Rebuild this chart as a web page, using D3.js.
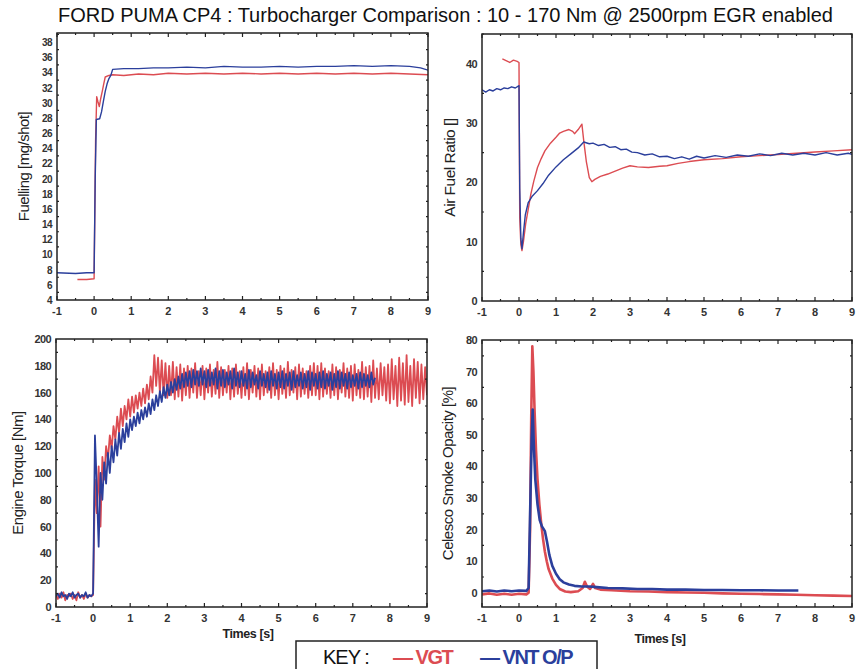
<!DOCTYPE html>
<html>
<head>
    <script src="https://d3js.org/d3.v7.min.js"></script>
    <style>
        body { margin: 0; background: #fff; }
        text { font-family: Arial, 'Liberation Sans', sans-serif; }
    </style>
</head>
<body>
<script>
// ---- data ----
const title = 'FORD PUMA CP4 : Turbocharger Comparison : 10 - 170 Nm @ 2500rpm EGR enabled';
const seriesNames = ['VGT', 'VNT O/P'];
const xTicks = [-1, 0, 1, 2, 3, 4, 5, 6, 7, 8, 9];

// fuelling [mg/shot], [time, value]
const fuelVgt = [[-0.45,6.7],[-0.2,6.7],[0.0,6.8],[0.04,25],[0.07,30.8],[0.1,30.2],[0.14,29.5],[0.18,30.6],[0.22,31.5],[0.26,32.5],[0.3,33.4],[0.4,33.6],[0.5,33.7],[0.8,33.6],[1.2,33.8],[1.6,33.7],[2,33.9],[2.5,33.8],[3,33.9],[3.5,33.8],[4,33.9],[4.5,33.8],[5,33.9],[5.5,33.8],[6,33.9],[6.5,33.8],[7,33.9],[7.5,33.8],[8,33.9],[8.5,33.8],[9,33.7]];
const fuelVnt = [[-1,7.6],[-0.5,7.5],[-0.2,7.6],[0.0,7.6],[0.03,20],[0.06,27.8],[0.15,27.9],[0.2,28.8],[0.25,30.2],[0.3,31.5],[0.35,32.5],[0.4,33.2],[0.45,33.6],[0.5,34.4],[0.8,34.5],[1.2,34.5],[1.6,34.6],[2,34.6],[2.5,34.7],[3,34.6],[3.5,34.8],[4,34.7],[4.5,34.7],[5,34.8],[5.5,34.7],[6,34.8],[6.5,34.8],[7,34.9],[7.5,34.8],[8,34.9],[8.5,34.8],[8.8,34.6],[9,34.3]];

// air fuel ratio
const afrVgt = [[-0.45,40.8],[-0.35,40.5],[-0.25,40.2],[-0.15,40.6],[-0.05,40.4],[0.0,40.2],[0.02,14],[0.05,9.5],[0.08,8.5],[0.12,10],[0.18,13],[0.25,15.5],[0.32,18],[0.4,20.2],[0.5,22.5],[0.6,24],[0.7,25.3],[0.85,26.6],[1.0,27.6],[1.1,28.3],[1.2,28.6],[1.35,28.9],[1.45,28.6],[1.5,28.2],[1.6,28.9],[1.7,29.8],[1.75,27],[1.82,23.5],[1.9,20.8],[1.97,20.1],[2.05,20.5],[2.2,21],[2.4,21.4],[2.6,21.9],[2.8,22.4],[3.0,22.8],[3.2,22.6],[3.5,22.5],[3.8,22.7],[4.0,22.8],[4.3,23.2],[4.6,23.5],[5.0,23.8],[5.5,24.0],[6.0,24.3],[6.5,24.5],[7.0,24.7],[7.5,24.9],[8.0,25.1],[8.5,25.3],[9,25.5]];
const afrVnt = [[-1,35.6],[-0.9,35.2],[-0.8,35.6],[-0.7,35.4],[-0.6,35.8],[-0.5,35.6],[-0.4,35.9],[-0.3,35.8],[-0.2,36.1],[-0.1,35.9],[0.0,36.3],[0.02,19],[0.05,10.5],[0.08,8.8],[0.12,11.5],[0.17,14.5],[0.25,16.6],[0.35,17.6],[0.5,18.6],[0.65,19.8],[0.8,21.2],[1.0,22.6],[1.2,23.8],[1.4,24.8],[1.6,25.8],[1.75,26.8],[1.9,26.5],[2.0,26.6],[2.15,26.2],[2.3,26.4],[2.45,25.9],[2.6,26.0],[2.75,25.5],[2.9,25.6],[3.05,25.1],[3.2,25.0],[3.4,24.6],[3.6,24.8],[3.8,24.3],[4.0,24.4],[4.2,24.0],[4.4,24.3],[4.6,23.9],[4.8,24.4],[5.0,24.1],[5.3,24.5],[5.6,24.2],[5.9,24.6],[6.2,24.4],[6.5,24.8],[6.8,24.5],[7.1,24.9],[7.4,24.6],[7.7,24.9],[8.0,24.6],[8.3,25.0],[8.6,24.6],[8.9,24.9],[9,24.7]];

// engine torque [Nm], sampled every 0.05 s from -1 s
const torqueT0 = -1, torqueDt = 0.05;
const torqueVgt = [
  9,6,10,7,11,5,9,8,10,6,9,5,11,7,9,6,10,7,9,8,
  9,95,70,105,60,112,95,120,110,128,118,135,125,142,130,148,135,150,140,155,
  142,157,145,158,148,160,150,163,152,166,155,172,160,188,165,186,160,184,158,182,
  156,180,158,183,155,179,157,181,154,178,158,180,156,178,160,182,156,176,158,180,
  155,178,160,181,157,177,159,183,156,179,158,177,160,180,155,178,157,181,159,176,
  156,179,158,182,155,177,160,180,157,178,155,181,158,176,160,179,156,182,158,177,
  155,180,159,178,156,183,158,177,160,179,155,181,157,178,159,176,156,180,158,182,
  158,180,155,182,157,178,159,176,156,181,158,179,155,177,160,182,157,178,156,180,
  154,181,158,177,156,183,155,179,157,180,153,184,156,178,155,182,158,179,154,181,
  152,185,155,180,150,186,154,182,151,188,153,180,150,185,156,183,152,181,155,179,
  158
];
const torqueVnt = [
  8,10,7,11,8,9,6,10,8,11,7,9,10,7,9,8,11,7,9,8,
  10,128,90,45,100,80,108,92,115,100,120,108,125,113,130,118,133,123,137,127,
  140,132,142,135,145,137,147,140,149,142,152,144,155,147,158,150,161,153,164,156,
  166,158,168,160,170,162,172,163,174,164,175,165,176,164,177,166,176,165,178,166,
  176,164,177,165,175,166,178,163,176,165,177,164,175,166,176,163,178,165,175,164,
  176,165,174,163,177,164,175,166,173,163,176,165,174,164,175,162,176,165,174,163,
  175,164,176,163,174,165,175,162,176,164,173,165,175,163,174,164,176,162,175,165,
  174,163,175,164,176,163,174,165,175,162,174,164,176,163,175,165,174,163,175,164,
  173,165,174,163,175,164,174,165,173,164,175,166,171
];

// smoke opacity [%]
const smokeVgt = [[-1,-0.5],[-0.8,-0.2],[-0.6,-0.6],[-0.4,-0.3],[-0.2,-0.6],[0.0,-0.3],[0.2,-0.5],[0.26,0],[0.3,20],[0.33,55],[0.36,78],[0.39,70],[0.42,58],[0.46,45],[0.5,36],[0.55,28],[0.6,22],[0.65,17],[0.7,13],[0.75,10],[0.8,7.5],[0.9,4.5],[1.0,2.5],[1.1,1.2],[1.25,0.4],[1.4,0.2],[1.6,0.5],[1.72,1.5],[1.78,3.5],[1.84,2],[1.92,1.2],[2.0,2.8],[2.06,1.5],[2.2,1.0],[2.5,0.8],[3.0,0.5],[3.5,0.4],[4.0,0.2],[4.5,0.1],[5.0,0],[5.5,-0.2],[6.0,-0.3],[6.5,-0.4],[7.0,-0.5],[7.5,-0.6],[8.0,-0.8],[8.5,-0.9],[9,-1.0]];
const smokeVnt = [[-1,0.5],[-0.8,0.7],[-0.6,0.4],[-0.4,0.7],[-0.2,0.5],[0.0,0.7],[0.2,0.6],[0.26,1.5],[0.3,25],[0.34,48],[0.37,58],[0.4,47],[0.44,36],[0.5,28],[0.56,23],[0.62,21],[0.7,19.5],[0.76,16],[0.82,12],[0.9,8.5],[1.0,6],[1.1,4.3],[1.2,3.3],[1.35,2.6],[1.5,2.2],[1.7,2.0],[1.9,2.0],[2.1,1.8],[2.4,1.5],[2.8,1.4],[3.2,1.2],[3.6,1.2],[4.0,1.0],[4.5,1.0],[5.0,0.9],[5.5,0.9],[6.0,0.8],[6.5,0.8],[7.0,0.7],[7.55,0.7]];

// ---- layout ----
const width = 858, height = 669;
const red = '#dc4c52', blue = '#2b3f9c';

const svg = d3.select('body').append('svg')
    .attr('width', width)
    .attr('height', height);

svg.append('text')
    .attr('x', 58).attr('y', 22)
    .attr('textLength', 775)
    .attr('lengthAdjust', 'spacingAndGlyphs')
    .attr('font-size', 20)
    .attr('fill', '#111')
    .text(title);

const toPairs = (vals, t0, dt) => vals.map((v, i) => [t0 + i * dt, v]);

let clipId = 0;
function panel(o) {
    const x = d3.scaleLinear().domain([-1, 9]).range([o.left, o.right]);
    const y = d3.scaleLinear().domain(o.yDomain).range([o.bottom, o.top]);
    const g = svg.append('g');

    const cid = 'clip' + (clipId++);
    svg.append('clipPath').attr('id', cid).append('rect')
        .attr('x', o.left).attr('y', o.top)
        .attr('width', o.right - o.left).attr('height', o.bottom - o.top);

    // series
    const line = d3.line().x(d => x(d[0])).y(d => y(d[1]));
    o.series.forEach((s, i) => {
        g.append('path')
            .datum(s)
            .attr('clip-path', `url(#${cid})`)
            .attr('fill', 'none')
            .attr('stroke', i === 0 ? red : blue)
            .attr('stroke-width', o.strokeWidth)
            .attr('stroke-linejoin', 'round')
            .attr('d', line);
    });

    // ticks inside the frame on all four sides
    const minorX = d3.range(-1, 9.01, 0.5);
    const minorY = d3.range(o.yMinor[0], o.yMinor[1] + 0.001, o.yMinor[2]);
    const tickG = g.append('g').attr('stroke', '#222').attr('stroke-width', 1.2);
    minorX.forEach(v => {
        const len = Number.isInteger(v) ? 4 : 2;
        tickG.append('line').attr('x1', x(v)).attr('x2', x(v)).attr('y1', o.bottom).attr('y2', o.bottom - len);
        tickG.append('line').attr('x1', x(v)).attr('x2', x(v)).attr('y1', o.top).attr('y2', o.top + len);
    });
    minorY.forEach(v => {
        const len = o.yTicks.includes(+v.toFixed(3)) ? 4 : 2;
        tickG.append('line').attr('y1', y(v)).attr('y2', y(v)).attr('x1', o.left).attr('x2', o.left + len);
        tickG.append('line').attr('y1', y(v)).attr('y2', y(v)).attr('x1', o.right).attr('x2', o.right - len);
    });

    g.append('rect')
        .attr('x', o.left).attr('y', o.top)
        .attr('width', o.right - o.left).attr('height', o.bottom - o.top)
        .attr('fill', 'none').attr('stroke', '#222').attr('stroke-width', 1.5);

    // tick labels
    g.selectAll('.xl').data(xTicks).join('text')
        .attr('x', d => x(d)).attr('y', o.bottom + 15)
        .attr('text-anchor', 'middle')
        .attr('font-size', 11).attr('font-weight', 'bold').attr('fill', '#333')
        .text(d => d);
    g.selectAll('.yl').data(o.yTicks).join('text')
        .attr('x', o.left - 5).attr('y', d => y(d) + 4)
        .attr('text-anchor', 'end')
        .attr('font-size', o.yFont).attr('font-weight', 'bold').attr('fill', '#333')
        .attr('letter-spacing', -0.6)
        .text(d => d);

    g.append('text')
        .attr('transform', `translate(${o.labelX},${(o.top + o.bottom) / 2}) rotate(-90)`)
        .attr('text-anchor', 'middle')
        .attr('font-size', o.labelFont).attr('fill', '#222')
        .attr('letter-spacing', -0.5)
        .text(o.label);

    if (o.xLabel) {
        g.append('text')
            .attr('x', o.xLabel[0]).attr('y', o.xLabel[1])
            .attr('text-anchor', 'middle')
            .attr('font-size', 12.5).attr('font-weight', 'bold').attr('fill', '#222')
            .attr('letter-spacing', -0.4)
            .text('Times [s]');
    }
}

panel({
    left: 57, right: 428, top: 33, bottom: 300,
    yDomain: [4, 39.2], yTicks: d3.range(4, 39, 2), yMinor: [5, 39, 2], yFont: 10,
    label: 'Fuelling [mg/shot]', labelX: 29, labelFont: 15, strokeWidth: 1.4,
    series: [fuelVgt, fuelVnt]
});
panel({
    left: 482, right: 852, top: 34, bottom: 301,
    yDomain: [0, 45], yTicks: [0, 10, 20, 30, 40], yMinor: [5, 45, 10], yFont: 11,
    label: 'Air Fuel Ratio []', labelX: 455, labelFont: 15.5, strokeWidth: 1.4,
    series: [afrVgt, afrVnt]
});
panel({
    left: 56, right: 427, top: 339, bottom: 607,
    yDomain: [0, 200], yTicks: d3.range(0, 201, 20), yMinor: [10, 200, 20], yFont: 11,
    label: 'Engine Torque [Nm]', labelX: 23, labelFont: 15, strokeWidth: 1.8,
    series: [toPairs(torqueVgt, torqueT0, torqueDt), toPairs(torqueVnt, torqueT0, torqueDt)],
    xLabel: [248, 638]
});
panel({
    left: 482, right: 852, top: 340, bottom: 607,
    yDomain: [-4.5, 80], yTicks: d3.range(0, 81, 10), yMinor: [5, 75, 10], yFont: 11,
    label: 'Celesco Smoke Opacity [%]', labelX: 453, labelFont: 15, strokeWidth: 2.6,
    series: [smokeVgt, smokeVnt],
    xLabel: [660, 643]
});

// key box
const key = svg.append('g');
key.append('rect')
    .attr('x', 296).attr('y', 641).attr('width', 301).attr('height', 30)
    .attr('fill', '#fff').attr('stroke', '#222').attr('stroke-width', 1.5);
key.append('text')
    .attr('x', 323).attr('y', 664)
    .attr('font-size', 20).attr('fill', '#111').attr('letter-spacing', -1)
    .text('KEY :');
const keyItems = [
    {name: seriesNames[0], x: 393, color: red},
    {name: seriesNames[1], x: 480, color: blue}
];
keyItems.forEach(k => {
    key.append('text')
        .attr('x', k.x).attr('y', 664)
        .attr('font-size', 20).attr('font-weight', 'bold').attr('fill', k.color)
        .attr('letter-spacing', -1.5)
        .text('\u2014 ' + k.name);
});
</script>
</body>
</html>
